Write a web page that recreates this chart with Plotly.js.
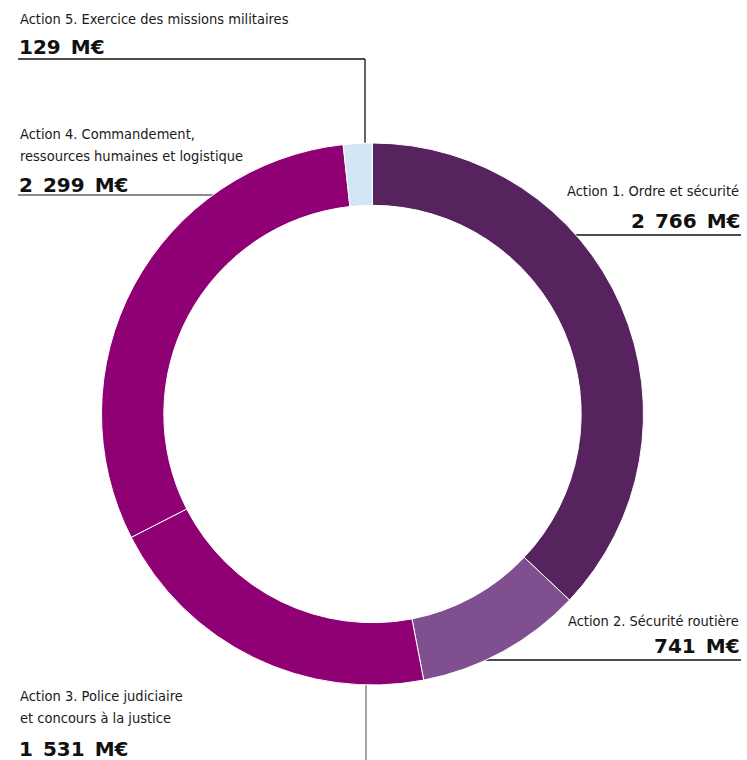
<!DOCTYPE html>
<html>
<head>
<meta charset="utf-8">
<script src="https://cdn.plot.ly/plotly-3.0.1.min.js"></script>
<style>html,body{margin:0;padding:0;background:#fff;}#chart{width:747px;height:760px;}</style>
</head>
<body>
<div id="chart"></div>
<script>
// Data
const actionLabels = [
  "Action 1. Ordre et sécurité",
  "Action 2. Sécurité routière",
  "Action 3. Police judiciaire<br>et concours à la justice",
  "Action 4. Commandement,<br>ressources humaines et logistique",
  "Action 5. Exercice des missions militaires"
];
const actionValues = [2766, 741, 1531, 2299, 129];
const unit = "M€";

const sliceColors = ["#56235f", "#7f4f8f", "#8e0074", "#8e0074", "#d2e7f5"];

const W = 747, H = 760;
const px = x => x / W;
const py = y => 1 - y / H;
const fmt = v => String(v).replace(/\B(?=(\d{3})+(?!\d))/g, "\u2002") + "\u2002" + unit;

const LFONT = "DejaVu Sans Condensed, DejaVu Sans, sans-serif";
const VFONT = "DejaVu Sans, sans-serif";
const cx = 372.5, cy = 414, r = 271;

const trace = {
  type: "pie",
  labels: actionLabels,
  values: actionValues,
  sort: false,
  direction: "clockwise",
  rotation: 0,
  hole: 0.77,
  textinfo: "none",
  hoverinfo: "label+value",
  marker: { colors: sliceColors, line: { color: "#ffffff", width: 1 } },
  domain: { x: [px(cx - r), px(cx + r)], y: [py(cy + r), py(cy - r)] },
  showlegend: false
};

const labelFont = { family: LFONT, size: 14.5, color: "#1a1a1a" };
const valueFont = { family: VFONT, size: 20, color: "#111111", weight: "bold" };

function ann(text, x, y, anchor, font) {
  return { text: text, xref: "paper", yref: "paper", x: px(x), y: py(y),
           xanchor: anchor, yanchor: "top", showarrow: false, align: anchor, font: font };
}
function labelAnns(label, x, y, anchor) {
  return label.split("<br>").map((line, i) => ann(line, x, y + i * 22, anchor, labelFont));
}

const annotations = [].concat(
  labelAnns(actionLabels[4], 18, 9, "left"),
  [ann("<b>" + fmt(actionValues[4]) + "</b>", 17, 33, "left", valueFont)],
  labelAnns(actionLabels[3], 18, 124, "left"),
  [ann("<b>" + fmt(actionValues[3]) + "</b>", 17, 171, "left", valueFont)],
  labelAnns(actionLabels[0], 741, 181, "right"),
  [ann("<b>" + fmt(actionValues[0]) + "</b>", 742, 207, "right", valueFont)],
  labelAnns(actionLabels[1], 741, 611, "right"),
  [ann("<b>" + fmt(actionValues[1]) + "</b>", 742, 632, "right", valueFont)],
  labelAnns(actionLabels[2], 18, 686, "left"),
  [ann("<b>" + fmt(actionValues[2]) + "</b>", 17, 735, "left", valueFont)]
);

function seg(x0, y0, x1, y1, color) {
  return { type: "line", xref: "paper", yref: "paper", x0: px(x0), y0: py(y0), x1: px(x1), y1: py(y1),
           line: { color: color, width: 1.3 }, layer: "below" };
}

const shapes = [
  seg(18, 59, 365, 59, "#111"),
  seg(365, 59, 365, 143, "#111"),
  seg(18, 195, 215, 195, "#666"),
  seg(575, 235, 741, 235, "#111"),
  seg(485, 660, 741, 660, "#111"),
  seg(366, 680, 366, 760, "#777")
];

const layout = {
  width: W, height: H,
  margin: { l: 0, r: 0, t: 0, b: 0 },
  paper_bgcolor: "#ffffff",
  plot_bgcolor: "#ffffff",
  annotations: annotations,
  shapes: shapes,
  showlegend: false
};

Plotly.newPlot("chart", [trace], layout, { displayModeBar: false, staticPlot: true });
</script>
</body>
</html>
